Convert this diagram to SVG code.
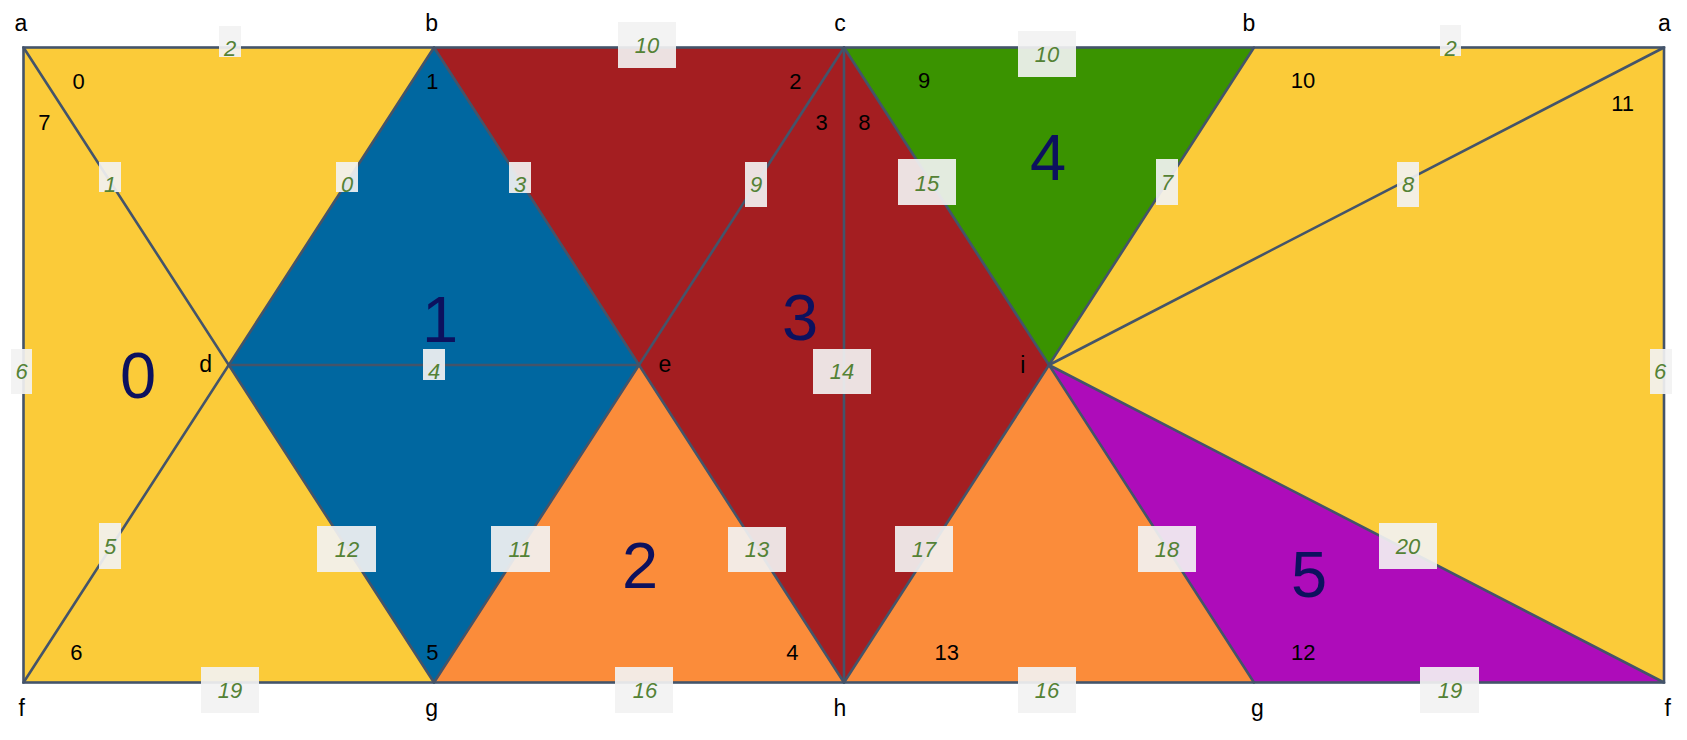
<svg xmlns="http://www.w3.org/2000/svg" width="1687" height="740" viewBox="0 0 1687 740">
<style>
.face{stroke:none}
.edge{stroke:#44546A;stroke-width:2.6;fill:none;stroke-linecap:round}
.box{fill:#F2F2F2;fill-opacity:0.92}
.el{font-family:"Liberation Sans",Arial,sans-serif;font-style:italic;font-size:22px;fill:#548235;text-anchor:middle}
.vl{font-family:"Liberation Sans",Arial,sans-serif;font-size:22px;fill:#000;text-anchor:middle}
.nl{font-family:"Liberation Sans",Arial,sans-serif;font-size:23px;fill:#000;text-anchor:middle}
.fl{font-family:"Liberation Sans",Arial,sans-serif;font-size:65px;fill:#0C115E;text-anchor:middle}
</style>
<rect width="1687" height="740" fill="#FFFFFF"/>
<g id="faces">
<g id="face0"><polygon class="face" fill="#FBCB39" points="23.5,47.5 434,47.5 229,365 434,682.5 23.5,682.5"/><text class="fl" x="138" y="398">0</text></g>
<g id="face1"><polygon class="face" fill="#0067A0" points="434,47.5 639,365 434,682.5 229,365"/><text class="fl" x="440" y="342">1</text></g>
<g id="face3"><polygon class="face" fill="#A41E21" points="434,47.5 844,47.5 1049,365 844,682.5 639,365"/><text class="fl" x="800" y="340">3</text></g>
<g id="face2"><polygon class="face" fill="#FB8C3A" points="639,365 844,682.5 434,682.5"/><polygon class="face" fill="#FB8C3A" points="1049,365 1254,682.5 844,682.5"/><text class="fl" x="640" y="588">2</text></g>
<g id="face4"><polygon class="face" fill="#3A9300" points="844,47.5 1254,47.5 1049,365"/><text class="fl" x="1048" y="180">4</text></g>
<g id="face5"><polygon class="face" fill="#AE0CBA" points="1049,365 1664,682.5 1254,682.5"/><text class="fl" x="1309" y="597">5</text></g>
<g id="face0b"><polygon class="face" fill="#FBCB39" points="1254,47.5 1664,47.5 1664,682.5 1049,365"/></g>
</g>
<g id="connectors">
<rect class="edge" x="23.5" y="47.5" width="1640.5" height="635"/>
<line class="edge" x1="23.5" y1="47.5" x2="434" y2="682.5"/>
<line class="edge" x1="434" y1="47.5" x2="23.5" y2="682.5"/>
<line class="edge" x1="434" y1="47.5" x2="844" y2="682.5"/>
<line class="edge" x1="844" y1="47.5" x2="434" y2="682.5"/>
<line class="edge" x1="229" y1="365" x2="639" y2="365"/>
<line class="edge" x1="844" y1="47.5" x2="844" y2="682.5"/>
<line class="edge" x1="844" y1="47.5" x2="1254" y2="682.5"/>
<line class="edge" x1="1254" y1="47.5" x2="844" y2="682.5"/>
<line class="edge" x1="1664" y1="47.5" x2="1049" y2="365"/>
<line class="edge" x1="1049" y1="365" x2="1664" y2="682.5"/>
</g>
<g id="edge-labels">
<rect class="box" x="219" y="26" width="22" height="31"/><text class="el" x="230" y="56">2</text>
<rect class="box" x="618" y="22" width="58" height="46"/><text class="el" x="647" y="53">10</text>
<rect class="box" x="1018" y="31" width="58" height="46"/><text class="el" x="1047" y="62">10</text>
<rect class="box" x="1440" y="25" width="21" height="31"/><text class="el" x="1450.5" y="56">2</text>
<rect class="box" x="99" y="162" width="22" height="30"/><text class="el" x="110" y="191.5">1</text>
<rect class="box" x="336" y="162" width="22" height="30"/><text class="el" x="347" y="191.5">0</text>
<rect class="box" x="509" y="162" width="22" height="31"/><text class="el" x="520" y="192">3</text>
<rect class="box" x="745" y="162" width="22" height="45"/><text class="el" x="756" y="191.5">9</text>
<rect class="box" x="898" y="159" width="58" height="46"/><text class="el" x="927" y="190.5">15</text>
<rect class="box" x="1156" y="159" width="22" height="46"/><text class="el" x="1167" y="190">7</text>
<rect class="box" x="1397" y="162" width="22" height="45"/><text class="el" x="1408" y="191.5">8</text>
<rect class="box" x="11" y="349" width="21" height="45"/><text class="el" x="21.5" y="379">6</text>
<rect class="box" x="423" y="349" width="22" height="31"/><text class="el" x="434" y="379">4</text>
<rect class="box" x="813" y="349" width="58" height="45"/><text class="el" x="842" y="379">14</text>
<rect class="box" x="1650" y="349" width="22" height="45"/><text class="el" x="1660" y="379">6</text>
<rect class="box" x="99" y="523" width="22" height="46"/><text class="el" x="110" y="554">5</text>
<rect class="box" x="317" y="526" width="59" height="46"/><text class="el" x="347" y="557">12</text>
<rect class="box" x="491" y="526" width="59" height="46"/><text class="el" x="520" y="557">11</text>
<rect class="box" x="728" y="527" width="58" height="45"/><text class="el" x="757" y="557">13</text>
<rect class="box" x="895" y="526" width="58" height="46"/><text class="el" x="924" y="557">17</text>
<rect class="box" x="1138" y="526" width="58" height="46"/><text class="el" x="1167" y="557">18</text>
<rect class="box" x="1379" y="523" width="58" height="46"/><text class="el" x="1408" y="554">20</text>
<rect class="box" x="201" y="667" width="58" height="46"/><text class="el" x="230" y="698">19</text>
<rect class="box" x="615" y="667" width="58" height="46"/><text class="el" x="645" y="698">16</text>
<rect class="box" x="1018" y="667" width="58" height="46"/><text class="el" x="1047" y="698">16</text>
<rect class="box" x="1420" y="667" width="59" height="46"/><text class="el" x="1450" y="698">19</text>
</g>
<g id="corner-labels">
<text class="vl" x="78.7" y="89">0</text>
<text class="vl" x="44.3" y="130">7</text>
<text class="vl" x="432.3" y="89">1</text>
<text class="vl" x="795.3" y="89">2</text>
<text class="vl" x="821.7" y="130">3</text>
<text class="vl" x="864.3" y="130">8</text>
<text class="vl" x="924" y="87.5">9</text>
<text class="vl" x="1303" y="87.5">10</text>
<text class="vl" x="1622.7" y="111">11</text>
<text class="vl" x="76.3" y="660">6</text>
<text class="vl" x="432.3" y="660">5</text>
<text class="vl" x="792.3" y="660">4</text>
<text class="vl" x="946.7" y="660">13</text>
<text class="vl" x="1303.3" y="660">12</text>
</g>
<g id="vertex-labels">
<text class="nl" x="21" y="31">a</text>
<text class="nl" x="431.7" y="31">b</text>
<text class="nl" x="840" y="31">c</text>
<text class="nl" x="1249" y="31">b</text>
<text class="nl" x="1664.3" y="31">a</text>
<text class="nl" x="205.7" y="371.7">d</text>
<text class="nl" x="665" y="371.7">e</text>
<text class="nl" x="1022.7" y="373">i</text>
<text class="nl" x="21.7" y="716">f</text>
<text class="nl" x="431.7" y="716">g</text>
<text class="nl" x="840" y="716">h</text>
<text class="nl" x="1257.3" y="716">g</text>
<text class="nl" x="1667.7" y="716">f</text>
</g>
</svg>
